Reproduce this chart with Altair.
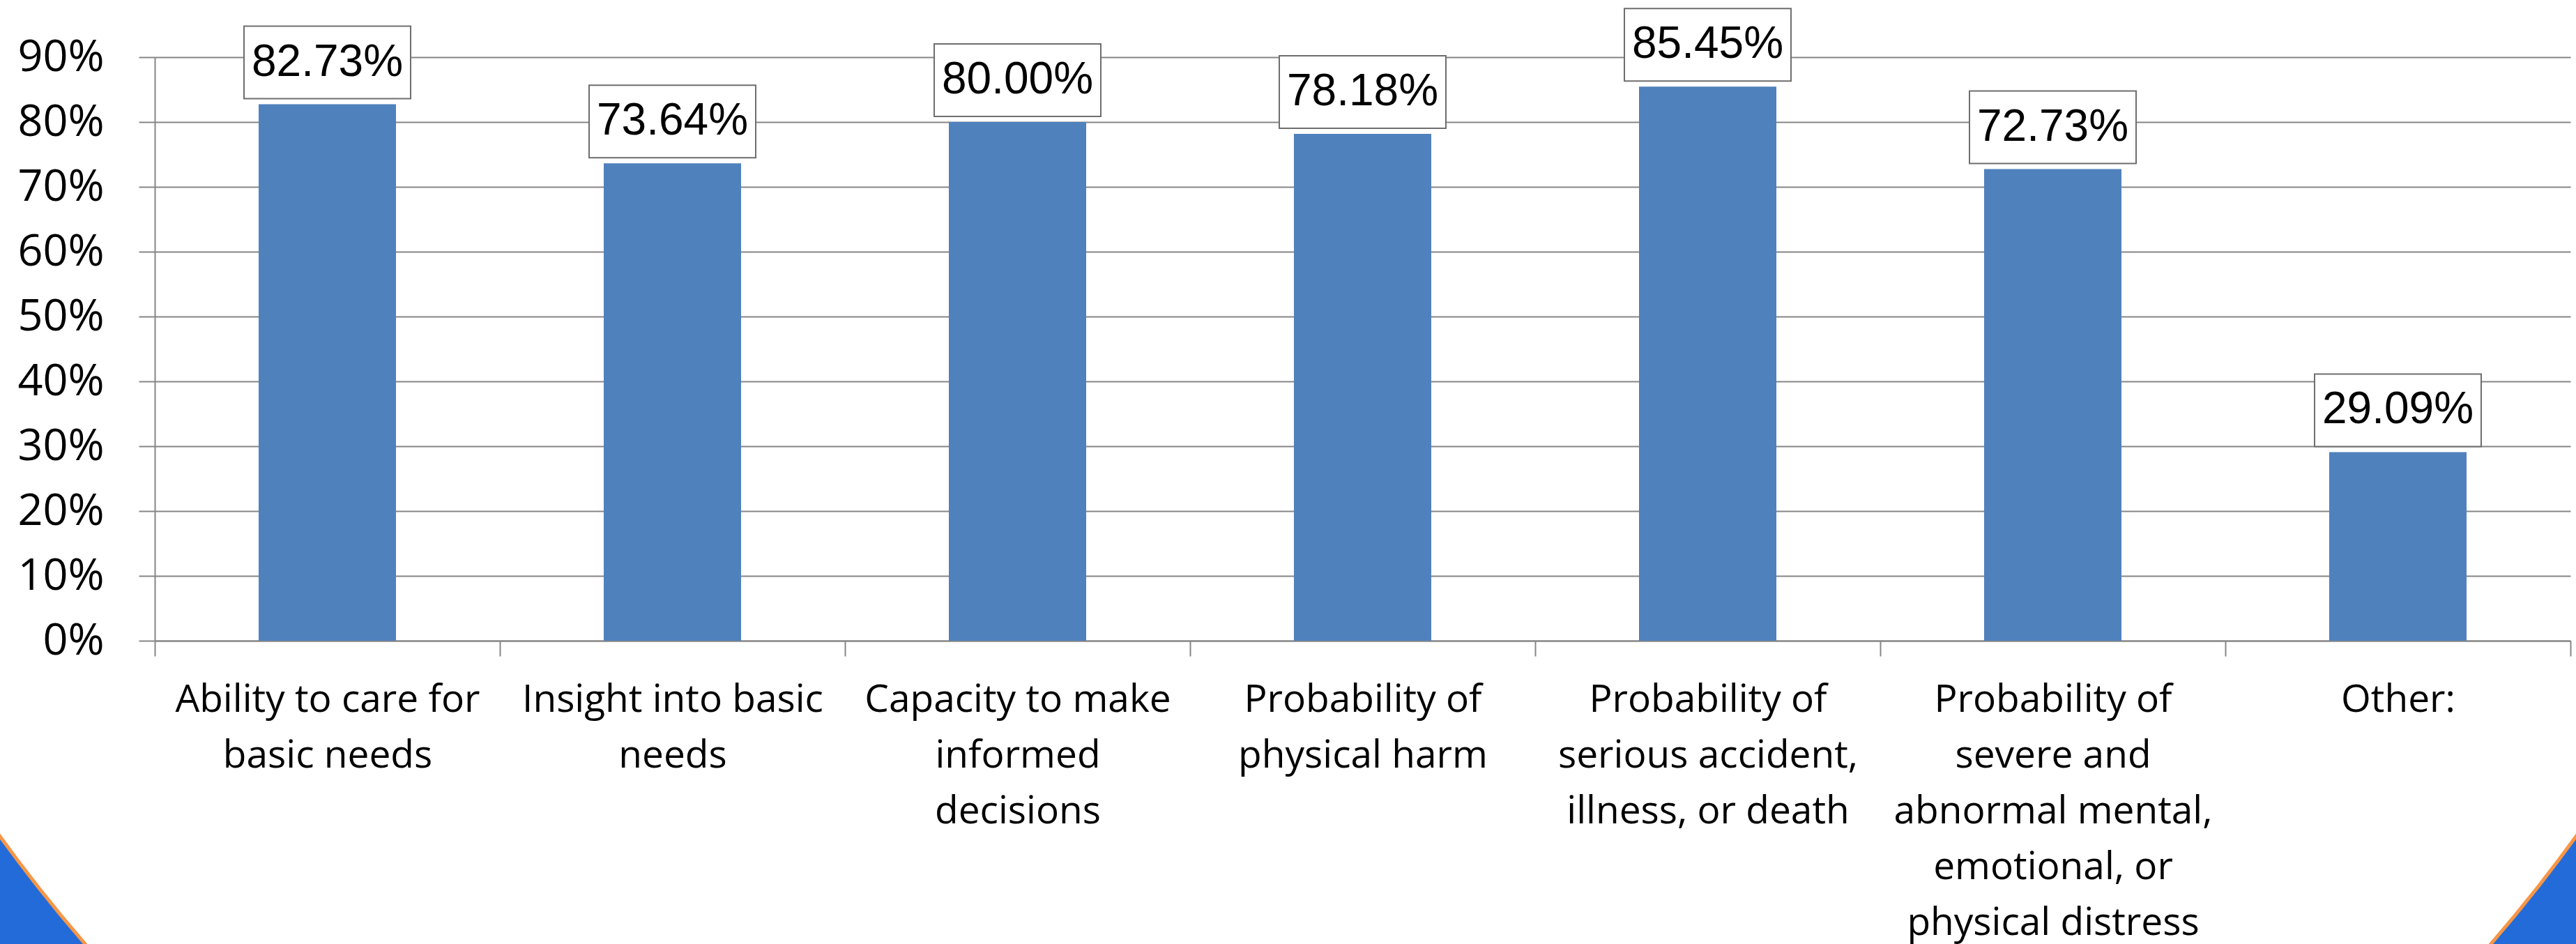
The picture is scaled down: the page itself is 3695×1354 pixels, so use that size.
import json
import altair as alt
import pandas as pd

categories = [
    "Ability to care for basic needs",
    "Insight into basic needs",
    "Capacity to make informed decisions",
    "Probability of physical harm",
    "Probability of serious accident, illness, or death",
    "Probability of severe and abnormal mental, emotional, or physical distress",
    "Other:",
]
values = [0.8273, 0.7364, 0.8000, 0.7818, 0.8545, 0.7273, 0.2909]
label_lines = [
    ["Ability to care for", "basic needs"],
    ["Insight into basic", "needs"],
    ["Capacity to make", "informed", "decisions"],
    ["Probability of", "physical harm"],
    ["Probability of", "serious accident,", "illness, or death"],
    ["Probability of", "severe and", "abnormal mental,", "emotional, or", "physical distress"],
    ["Other:"],
]
y_ticks = [0.0, 0.1, 0.2, 0.3, 0.4, 0.5, 0.6, 0.7, 0.8, 0.9]

df = pd.DataFrame({"category": categories, "value": values})

GRAY = "#868686"
BAR = "#4F81BD"
BLUE = "#236BD8"
ORANGE = "#F79646"

label_map = json.dumps(dict(zip(categories, label_lines)))

x_enc = alt.X(
    "category:N",
    sort=None,
    scale=alt.Scale(paddingInner=0, paddingOuter=0),
    axis=alt.Axis(
        title=None,
        labelAngle=0,
        tickBand="extent",
        tickSize=22,
        tickWidth=2,
        tickColor=GRAY,
        domainColor=GRAY,
        domainWidth=2,
        labelPadding=36,
        labelFont="Open Sans",
        labelFontSize=55,
        labelLineHeight=80,
        labelColor="black",
        labelLimit=0,
        labelOverlap=False,
        labelExpr=label_map + "[datum.value]",
        grid=False,
    ),
)
y_enc = alt.Y(
    "value:Q",
    scale=alt.Scale(domain=[0, 0.9], nice=False),
    axis=alt.Axis(
        title=None,
        values=y_ticks,
        format=".0%",
        tickSize=23,
        tickWidth=2,
        tickColor=GRAY,
        domainColor=GRAY,
        domainWidth=2,
        gridColor=GRAY,
        gridWidth=2,
        labelFont="Open Sans",
        labelFontSize=63,
        labelColor="black",
        labelPadding=50,
    ),
)

bars = alt.Chart(df).mark_bar(width=197, color=BAR).encode(x=x_enc, y=y_enc)

boxes = alt.Chart(df).mark_bar(
    width=239, fill="white", stroke="#6E6E6E", strokeWidth=2, yOffset=-8, y2Offset=-112
).encode(x=x_enc, y=alt.Y("value:Q"), y2="value:Q")

texts = alt.Chart(df).mark_text(
    font="Liberation Sans", fontSize=64, color="black", baseline="middle", align="center", yOffset=-60
).encode(x=x_enc, y=alt.Y("value:Q"), text=alt.Text("value:Q", format=".2%"))

# decorative slide background: blue corners outside a large circle with orange rim
deco = pd.DataFrame({"d": [0]})
R = 2281
cx, cy = 1625.5, -220
ring = alt.Chart(deco).mark_point(
    shape="circle", filled=False, stroke=BLUE, strokeWidth=300, opacity=1,
).encode(x=alt.value(cx), y=alt.value(cy), size=alt.value((2 * (R + 150)) ** 2))
rim = alt.Chart(deco).mark_point(
    shape="circle", filled=False, stroke=ORANGE, strokeWidth=5, opacity=1,
).encode(x=alt.value(cx), y=alt.value(cy), size=alt.value((2 * R) ** 2))

chart = (
    alt.layer(bars, boxes, texts, ring, rim)
    .properties(
        width=3465,
        height=837,
        autosize=alt.AutoSizeParams(type="none"),
        padding={"left": 222, "top": 82, "right": 8, "bottom": 435},
        background="white",
    )
    .configure_view(strokeWidth=0)
)

chart.save("out.html", embed_options={"renderer": "svg", "actions": False})
